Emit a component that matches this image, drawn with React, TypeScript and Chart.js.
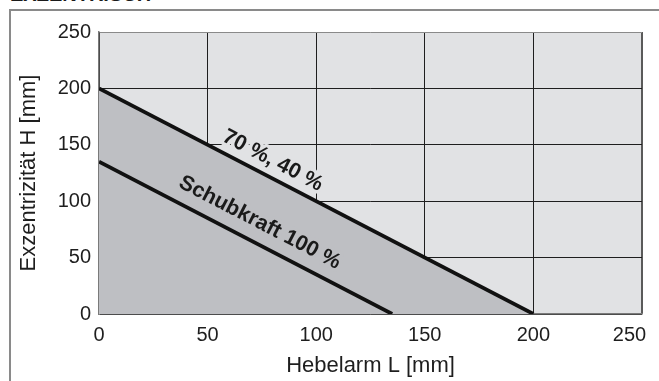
import { useEffect, useRef } from "react";
import { Chart, registerables } from "chart.js";

Chart.register(...registerables);

// ---- data ----
const upperX = [0, 200];
const upperY = [200, 0];
const lowerX = [0, 135];
const lowerY = [135, 0];
const xTickMin = 0;
const xTickMax = 250;
const yTickMin = 0;
const yTickMax = 250;
const tickStep = 50;
const labelTexts = ["70 %, 40 %", "Schubkraft 100 %"];
const labelAnchorX = [80, 74];
const labelAnchorY = [136, 81];
const xTitle = "Hebelarm L [mm]";
const yTitle = "Exzentrizität H [mm]";
const headerText = "EXZENTRISCH";

const FONT = "'Liberation Sans', Arial, Helvetica, sans-serif";
const LIGHT = "#e1e2e4";
const DARK = "#bebfc3";

export default function App() {
  const ref = useRef<HTMLCanvasElement>(null);

  useEffect(() => {
    if (!ref.current) return;

    const bgPlugin = {
      id: "areaBg",
      beforeDraw(chart: any) {
        const { ctx, chartArea: a } = chart;
        ctx.save();
        ctx.fillStyle = LIGHT;
        ctx.fillRect(a.left, a.top, a.right - a.left, a.bottom - a.top);
        ctx.restore();
      },
    };

    const halo = [LIGHT, DARK];
    const labelPlugin = {
      id: "lineLabels",
      afterDraw(chart: any) {
        const { ctx } = chart;
        const xs = chart.scales.x;
        const ys = chart.scales.y;
        ctx.save();
        labelTexts.forEach((t, i) => {
          const meta = chart.getDatasetMeta(i);
          const p0 = meta.data[0];
          const p1 = meta.data[meta.data.length - 1];
          const ang = Math.atan2(p1.y - p0.y, p1.x - p0.x);
          const px = xs.getPixelForValue(labelAnchorX[i]);
          const py = ys.getPixelForValue(labelAnchorY[i]);
          ctx.translate(px, py);
          ctx.rotate(ang);
          ctx.font = `bold 21.5px ${FONT}`;
          ctx.textAlign = "center";
          ctx.textBaseline = "middle";
          ctx.lineJoin = "round";
          ctx.strokeStyle = halo[i];
          ctx.lineWidth = 7;
          ctx.strokeText(t, 0, 0);
          ctx.fillStyle = "#1a1a1a";
          ctx.fillText(t, 0, 0);
          ctx.setTransform(1, 0, 0, 1, 0, 0);
        });
        ctx.restore();
      },
    };

    const tickFont = { family: FONT, size: 20 };
    const titleFont = { family: FONT, size: 22 };

    const chart = new Chart(ref.current, {
      type: "line",
      data: {
        datasets: [
          {
            data: upperX.map((x, i) => ({ x, y: upperY[i] })),
            borderColor: "#111111",
            borderWidth: 3.7,
            pointRadius: 0,
            fill: "origin",
            backgroundColor: DARK,
            tension: 0,
            order: 2,
          },
          {
            data: lowerX.map((x, i) => ({ x, y: lowerY[i] })),
            borderColor: "#111111",
            borderWidth: 3.7,
            pointRadius: 0,
            fill: false,
            tension: 0,
            order: 1,
          },
        ],
      },
      options: {
        responsive: false,
        animation: false,
        layout: { padding: { left: 10, top: 32, right: 17, bottom: 2 } },
        plugins: {
          legend: { display: false },
          tooltip: { enabled: false },
        },
        scales: {
          x: {
            type: "linear",
            min: xTickMin,
            max: xTickMax,
            z: 1,
            ticks: {
              stepSize: tickStep,
              padding: 9,
              font: tickFont,
              color: "#1e1e1e",
              callback: (v: any) => (v === xTickMax ? String(v) + "\u2003\u2005" : String(v)),
            },
            grid: {
              drawTicks: false,
              color: (c: any) => (c.tick && c.tick.value === xTickMax ? "#5a5a5a" : "#1e1e1e"),
              lineWidth: (c: any) => (c.tick && c.tick.value === xTickMax ? 2 : 1),
            },
            border: { color: "#7a7a7a", width: 1.5 },
            title: {
              display: true,
              text: xTitle,
              font: titleFont,
              color: "#1e1e1e",
              padding: { top: 0, bottom: 0 },
            },
            afterFit(s: any) {
              s.height = 65;
              s.paddingLeft = 0;
              s.paddingRight = 0;
            },
          },
          y: {
            type: "linear",
            min: yTickMin,
            max: yTickMax,
            z: 1,
            ticks: { stepSize: tickStep, padding: 8, font: tickFont, color: "#1e1e1e" },
            grid: {
              drawTicks: false,
              color: (c: any) => (c.tick && c.tick.value === yTickMax ? "#8a8a8a" : "#1e1e1e"),
              lineWidth: 1,
            },
            border: { color: "#7a7a7a", width: 1.5 },
            title: {
              display: true,
              text: yTitle,
              font: titleFont,
              color: "#1e1e1e",
              padding: { top: 6, bottom: 0 },
            },
            afterFit(s: any) {
              s.width = 89;
              s.paddingTop = 0;
              s.paddingBottom = 0;
            },
          },
        },
      },
      plugins: [bgPlugin, labelPlugin],
    } as any);

    return () => chart.destroy();
  }, []);

  return (
    <div
      style={{
        position: "fixed",
        left: 0,
        top: 0,
        width: 659,
        height: 381,
        overflow: "hidden",
        background: "#ffffff",
      }}
    >
      <div
        style={{
          position: "absolute",
          left: 10,
          top: -16.5,
          font: `bold 20px ${FONT}`,
          color: "#1a1a1a",
          whiteSpace: "nowrap",
          lineHeight: "20px",
        }}
      >
        {headerText}
      </div>
      <div
        style={{
          position: "absolute",
          left: 9,
          top: 9,
          width: 700,
          height: 400,
          borderLeft: "2px solid #8a8a8a",
          borderTop: "2px solid #8a8a8a",
        }}
      />
      <canvas
        ref={ref}
        width={659}
        height={381}
        style={{ position: "absolute", left: 0, top: 0, width: 659, height: 381 }}
      />
    </div>
  );
}
